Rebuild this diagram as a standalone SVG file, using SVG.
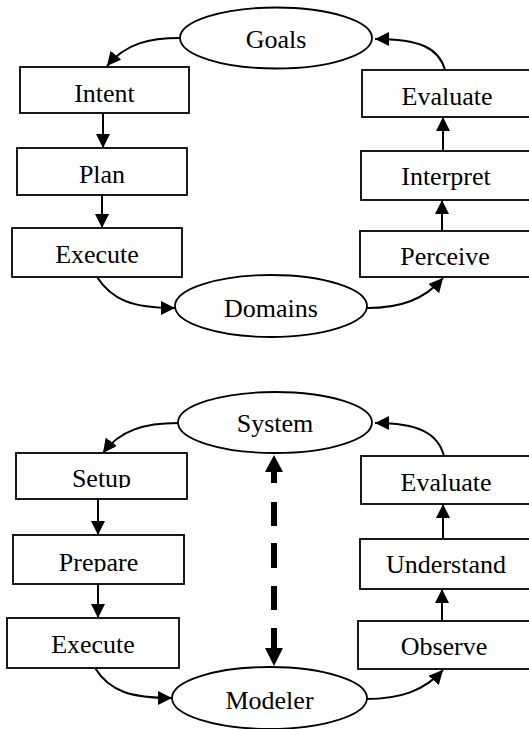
<svg xmlns="http://www.w3.org/2000/svg" width="529" height="729" viewBox="0 0 529 729">
  <style>
    .box { fill: #ffffff; stroke: #000000; stroke-width: 1.8; }
    .oval { fill: #ffffff; stroke: #000000; stroke-width: 1.8; }
    .label { font-family: "Liberation Serif", "Times New Roman", serif; font-size: 26px; fill: #000000; text-anchor: middle; }
    .edge { fill: none; stroke: #000000; stroke-width: 2; marker-end: url(#head); }
    .dash { fill: none; stroke: #000000; stroke-width: 6; }
  </style>
  <defs>
    <marker id="head" viewBox="0 0 14 14" refX="14" refY="7" markerWidth="14" markerHeight="14" markerUnits="userSpaceOnUse" orient="auto">
      <path d="M0,0 L14,7 L0,14 Z" fill="#000000"/>
    </marker>
    <clipPath id="clipSetup"><rect x="16" y="453" width="171" height="35"/></clipPath>
    <clipPath id="clipPrepare"><rect x="13" y="535" width="171" height="37"/></clipPath>
  </defs>
  <rect width="529" height="729" fill="#ffffff"/>

  <!-- connectors -->
  <g id="connectors">
    <!-- upper cycle -->
    <path class="edge" d="M180,38 C150,38 126,43 107,66"/>
    <path class="edge" d="M103,113 L103,148"/>
    <path class="edge" d="M102,195 L102,228"/>
    <path class="edge" d="M97,277 C112,300 132,308 175,308"/>
    <path class="edge" d="M367,308 C400,308 424,300 443,278"/>
    <path class="edge" d="M442,231 L442,200"/>
    <path class="edge" d="M443,151 L443,117"/>
    <path class="edge" d="M445,70 C439,48 420,39 375,39"/>
    <!-- lower cycle -->
    <path class="edge" d="M178,423 C145,423 120,430 103,453"/>
    <path class="edge" d="M98,499 L98,535"/>
    <path class="edge" d="M98,584 L98,618"/>
    <path class="edge" d="M95,668 C110,692 132,698 172,698"/>
    <path class="edge" d="M366,699 C400,699 424,691 443,670"/>
    <path class="edge" d="M442,621 L442,589"/>
    <path class="edge" d="M443,539 L443,504"/>
    <path class="edge" d="M444,456 C438,433 418,423 375,423"/>
    <!-- dashed two-way link between System and Modeler -->
    <path class="dash" d="M274,471 L274,483 M274,502 L274,526 M274,543 L274,568 M274,586 L274,610 M274,628 L274,649"/>
    <path d="M274,455 L283,472 L265,472 Z" fill="#000000"/>
    <path d="M274,666 L283,648 L265,648 Z" fill="#000000"/>
  </g>

  <!-- upper cycle nodes -->
  <g id="goals">
    <ellipse class="oval" cx="276" cy="38" rx="96" ry="30.5"/>
    <text class="label" x="276" y="48">Goals</text>
  </g>
  <g id="intent">
    <rect class="box" x="20" y="67" width="169" height="46"/>
    <text class="label" x="104.5" y="102">Intent</text>
  </g>
  <g id="plan">
    <rect class="box" x="17" y="148" width="170" height="47"/>
    <text class="label" x="102" y="183">Plan</text>
  </g>
  <g id="execute-top">
    <rect class="box" x="12" y="228" width="170" height="49"/>
    <text class="label" x="97" y="263">Execute</text>
  </g>
  <g id="domains">
    <ellipse class="oval" cx="271" cy="306" rx="96" ry="31"/>
    <text class="label" x="271" y="317">Domains</text>
  </g>
  <g id="perceive">
    <rect class="box" x="360" y="231" width="172" height="46"/>
    <text class="label" x="445" y="265">Perceive</text>
  </g>
  <g id="interpret">
    <rect class="box" x="361" y="151" width="172" height="49"/>
    <text class="label" x="446" y="185">Interpret</text>
  </g>
  <g id="evaluate-top">
    <rect class="box" x="362" y="70" width="172" height="47"/>
    <text class="label" x="447" y="105">Evaluate</text>
  </g>

  <!-- lower cycle nodes -->
  <g id="system">
    <ellipse class="oval" cx="275" cy="422.5" rx="97" ry="30.5"/>
    <text class="label" x="275" y="432">System</text>
  </g>
  <g id="setup">
    <rect class="box" x="16" y="453" width="171" height="46"/>
    <text class="label" x="101.5" y="487" clip-path="url(#clipSetup)">Setup</text>
  </g>
  <g id="prepare">
    <rect class="box" x="13" y="535" width="171" height="49"/>
    <text class="label" x="98.5" y="571" clip-path="url(#clipPrepare)">Prepare</text>
  </g>
  <g id="execute-bottom">
    <rect class="box" x="7" y="618" width="172" height="50"/>
    <text class="label" x="93" y="653">Execute</text>
  </g>
  <g id="modeler">
    <ellipse class="oval" cx="269.5" cy="698" rx="97.5" ry="31"/>
    <text class="label" x="269.5" y="709">Modeler</text>
  </g>
  <g id="observe">
    <rect class="box" x="358" y="621" width="174" height="48"/>
    <text class="label" x="444" y="655">Observe</text>
  </g>
  <g id="understand">
    <rect class="box" x="360" y="539" width="173" height="50"/>
    <text class="label" x="446" y="573">Understand</text>
  </g>
  <g id="evaluate-bottom">
    <rect class="box" x="361" y="456" width="173" height="48"/>
    <text class="label" x="446" y="491">Evaluate</text>
  </g>
</svg>
